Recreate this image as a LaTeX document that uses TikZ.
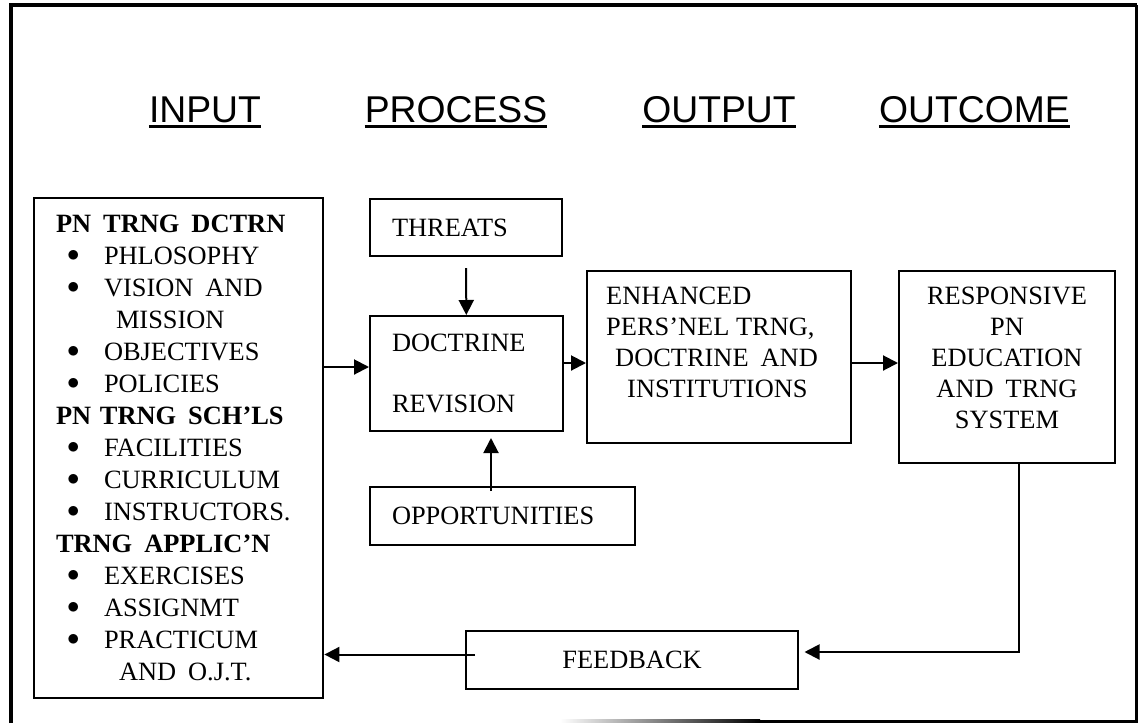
\documentclass[tikz,border=0pt]{standalone}
\usepackage{fontspec}
\setmainfont{Liberation Serif}
\newfontfamily\headfont{Liberation Sans}
\usetikzlibrary{arrows.meta,positioning}

\newcommand{\blt}[1]{\makebox[48pt][l]{\hspace*{11pt}\raisebox{3pt}{$\bullet$}}#1}
\newcommand{\dsp}{\hspace{12pt}}

\begin{document}
\begin{tikzpicture}
[x=1pt,y=-1pt,
 box/.style={draw=black,line width=2pt,inner xsep=22pt,inner ysep=0pt,font=\fontsize{26.4}{32}\selectfont},
 txt/.style={inner sep=0pt,font=\fontsize{26.4}{31}\selectfont},
 head/.style={inner sep=0pt,anchor=base,font=\headfont\fontsize{37.3}{44}\selectfont},
 uline/.style={line width=2.6pt},
 arr/.style={line width=2pt,-{Triangle[length=15pt,width=15pt]}}]

\useasboundingbox (0,0) rectangle (1139,723);

% frame
\draw [line width=4pt] (10.5,723) -- (10.5,5) -- (1136.7,5);
\draw [line width=3pt] (1136.7,5) -- (1136.7,721) -- (760,721);
\shade [left color=white,right color=black] (560,719.5) rectangle (760,722.5);

\node (inhead) at (205,122) [head] {INPUT};
\node (prochead) at (456,122) [head] {PROCESS};
\node (outhead) at (719,122) [head] {OUTPUT};
\node (ochead) at (974.5,122) [head] {OUTCOME};
\foreach \h in {inhead,prochead,outhead,ochead}
  \draw [uline] ([yshift=-4.5pt]\h.base west) -- ([yshift=-4.5pt]\h.base east);

\node (input) at (178.5,448) [box,line width=2.8pt,minimum width=289pt,minimum height=500pt,text width=245pt,align=left] {%
\textbf{PN\dsp TRNG\dsp DCTRN}\\
\blt{PHLOSOPHY}\\
\blt{VISION\dsp AND}\\
\hspace*{60pt}MISSION\\
\blt{OBJECTIVES}\\
\blt{POLICIES}\\
\textbf{PN TRNG\dsp SCH’LS}\\
\blt{FACILITIES}\\
\blt{CURRICULUM}\\
\blt{INSTRUCTORS.}\\
\textbf{TRNG\dsp APPLIC’N}\\
\blt{EXERCISES}\\
\blt{ASSIGNMT}\\
\blt{PRACTICUM}\\
\hspace*{63pt}AND\dsp O.J.T.};

\node (threats) at (466,227.5) [box,minimum width=192pt,minimum height=57pt,text width=148pt,align=left] {THREATS};
\node (doctrine) at (466.5,373.5) [box,minimum width=193pt,minimum height=115pt,text width=149pt,align=left] {DOCTRINE\\[29pt]REVISION};
\node (opport) at (502.5,516) [box,minimum width=265pt,minimum height=58pt,text width=221pt,align=left] {OPPORTUNITIES};

\node (enhanced) at (719,357) [box,minimum width=264pt,minimum height=172pt] {};
\node (enhtext) [txt,align=left,below right=16.5pt and 20pt of enhanced.north west] {ENHANCED\\PERS’NEL TRNG,\\\hspace*{9pt}DOCTRINE\dsp AND\\\hspace*{21pt}INSTITUTIONS};

\node (responsive) at (1007,367) [box,minimum width=216pt,minimum height=192pt] {};
\node (resptext) [txt,align=center,below=16.5pt of responsive.north] {RESPONSIVE\\PN\\EDUCATION\\AND\dsp TRNG\\SYSTEM};

\node (feedback) at (632,660) [box,minimum width=332pt,minimum height=58pt] {FEEDBACK};

\coordinate (oppin) at ([xshift=-11.5pt]opport.north);

\draw [arr,shorten <=11pt] (threats) -- (doctrine);
\draw [arr,shorten >=6pt] ([yshift=-5pt]oppin) -- (oppin |- doctrine.south);
\draw [arr] ([yshift=6.5pt]input.east |- doctrine.west) -- ([yshift=6.5pt]doctrine.west);
\draw [arr] ([yshift=10.5pt]doctrine.east) -- ([yshift=10.5pt]doctrine.east -| enhanced.west);
\draw [arr] ([yshift=-6pt]enhanced.east) -- ([yshift=-6pt]enhanced.east -| responsive.west);
\draw [arr,shorten >=5.5pt] ([xshift=12pt]responsive.south) |- ([yshift=8pt]feedback.east);
\draw [arr] ([xshift=10pt,yshift=5.5pt]feedback.west) -- ([yshift=5.5pt]feedback.west -| input.east);
\end{tikzpicture}
\end{document}
